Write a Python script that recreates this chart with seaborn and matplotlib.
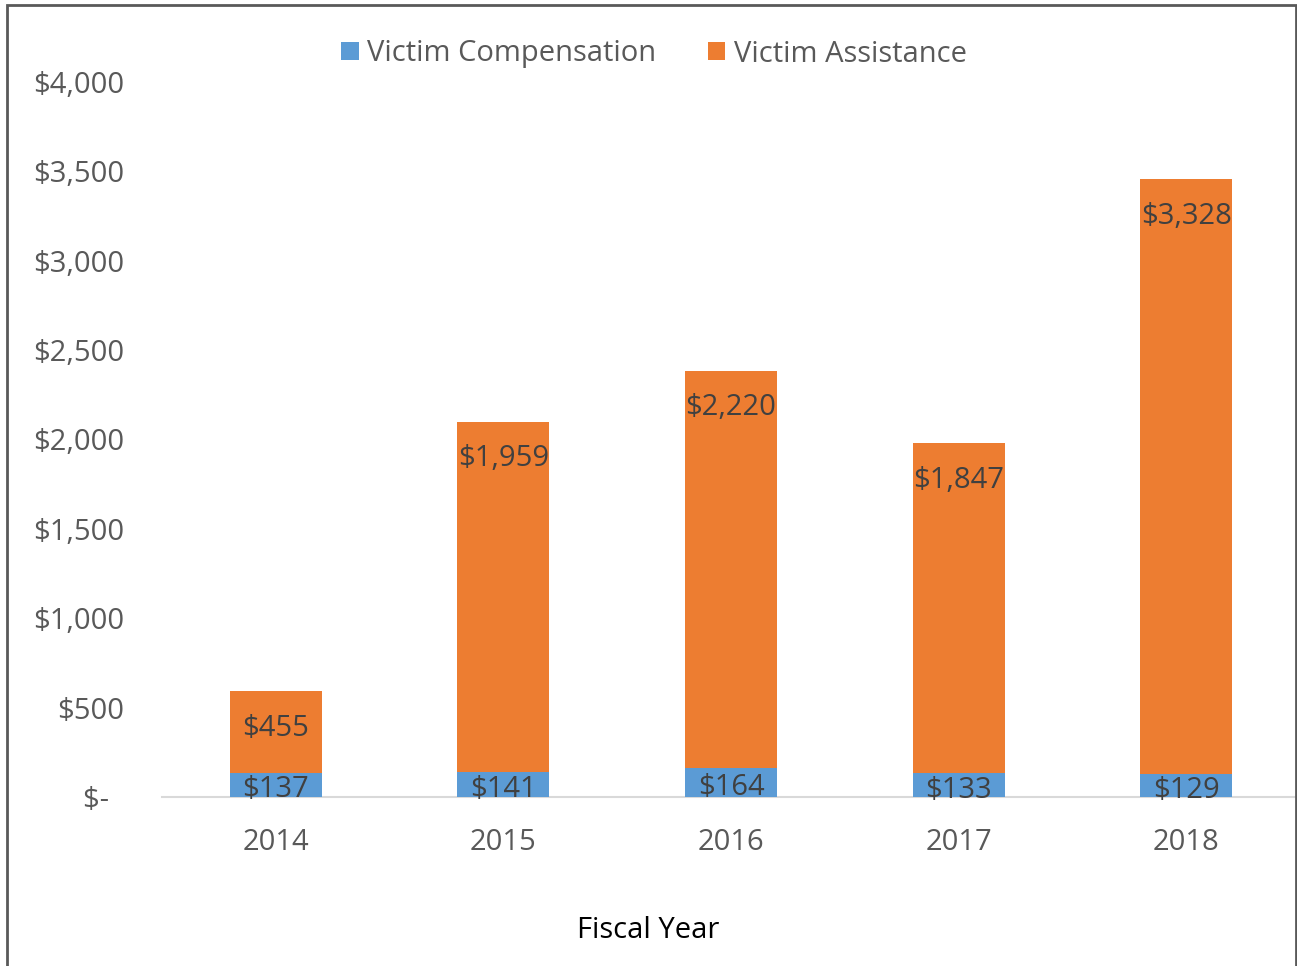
import matplotlib
matplotlib.use("Agg")
import matplotlib.pyplot as plt
import seaborn as sns
import pandas as pd
from matplotlib.patches import Rectangle

years = ["2014", "2015", "2016", "2017", "2018"]
compensation = [137, 141, 164, 133, 129]
assistance = [455, 1959, 2220, 1847, 3328]
yticks = [0, 500, 1000, 1500, 2000, 2500, 3000, 3500, 4000]

BLUE = "#5B9BD5"
ORANGE = "#ED7D31"
GRAY = "#595959"
LABEL = "#404040"

sns.set_theme(style="white")
plt.rcParams["font.family"] = ["Open Sans", "DejaVu Sans"]

df = pd.DataFrame({"year": years, "comp": compensation, "assist": assistance})
df["total"] = df["comp"] + df["assist"]

fig = plt.figure(figsize=(12.97, 9.66), dpi=100)
ax = fig.add_axes([162 / 1297, (966 - 797) / 966, (1300 - 162) / 1297, (797 - 82) / 966])

sns.barplot(data=df, x="year", y="total", color=ORANGE, width=0.404, ax=ax,
            saturation=1, linewidth=0, zorder=2)
sns.barplot(data=df, x="year", y="comp", color=BLUE, width=0.404, ax=ax,
            saturation=1, linewidth=0, zorder=3)

ax.set_xlim(-0.5, 4.5)
ax.set_ylim(0, 4000)
ax.set_yticks(yticks)
ax.set_yticklabels(["$-  " if v == 0 else f"${v:,}" for v in yticks])
ax.tick_params(axis="y", length=0, pad=27, labelsize=21, labelcolor=GRAY)
ax.tick_params(axis="x", length=0, pad=22, labelsize=21, labelcolor=GRAY)
ax.set_xlabel("")
ax.set_ylabel("")
for s in ["top", "right", "left"]:
    ax.spines[s].set_visible(False)
ax.spines["bottom"].set_color("#D9D9D9")
ax.spines["bottom"].set_linewidth(1.5)
ax.spines["bottom"].set_zorder(1)

# data labels
px_per_unit = (797 - 82) / 4000
for i, (c, a) in enumerate(zip(compensation, assistance)):
    ax.text(i, c / 2 - 5 / px_per_unit, f"${c:,}", ha="center", va="center",
            fontsize=21, color=LABEL, zorder=5)
    top = c + a
    ax.text(i, top - 37 / px_per_unit, f"${a:,}", ha="center", va="center",
            fontsize=21, color=LABEL, zorder=5)

# legend
comp_handle = Rectangle((0, 0), 1, 1, facecolor=BLUE, edgecolor="none")
assist_handle = Rectangle((0, 0), 1, 1, facecolor=ORANGE, edgecolor="none")
leg = fig.legend([comp_handle, assist_handle], ["Victim Compensation", "Victim Assistance"],
                 loc="center", bbox_to_anchor=(654 / 1297, 1 - 54 / 966), ncol=2,
                 frameon=False, fontsize=21, handlelength=0.6, handleheight=0.6,
                 handletextpad=0.3, columnspacing=1.75, labelcolor=GRAY)

fig.text(648 / 1297, 1 - 931 / 966, "Fiscal Year", ha="center", va="center",
         fontsize=21, color="black")

fig.patches.append(Rectangle((7 / 1297, -0.01), (1296 - 7) / 1297, (966 - 5) / 966 + 0.01,
                             transform=fig.transFigure, fill=False,
                             edgecolor=GRAY, linewidth=2, zorder=10))

fig.savefig("out.png", dpi=100)
